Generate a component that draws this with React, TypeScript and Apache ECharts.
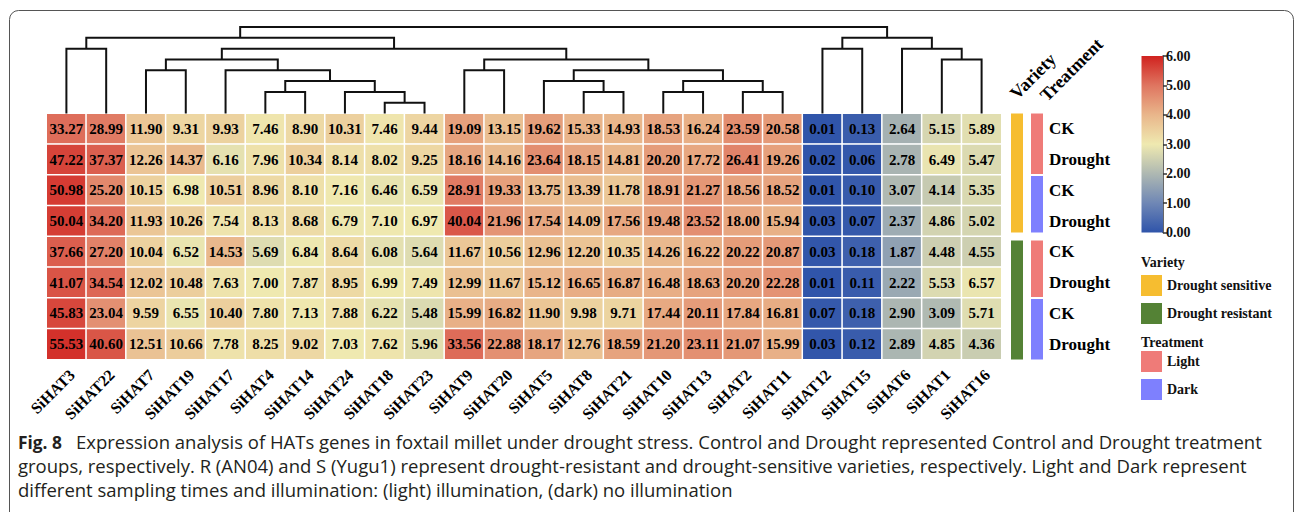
import React, { useEffect, useRef } from "react";
import * as echarts from "echarts";

// ---------------- data ----------------
const genes = [
  "SiHAT3", "SiHAT22", "SiHAT7", "SiHAT19", "SiHAT17", "SiHAT4", "SiHAT14", "SiHAT24",
  "SiHAT18", "SiHAT23", "SiHAT9", "SiHAT20", "SiHAT5", "SiHAT8", "SiHAT21", "SiHAT10",
  "SiHAT13", "SiHAT2", "SiHAT11", "SiHAT12", "SiHAT15", "SiHAT6", "SiHAT1", "SiHAT16",
];

const rowLabels = ["CK", "Drought", "CK", "Drought", "CK", "Drought", "CK", "Drought"];
const rowVariety = [
  "Drought sensitive", "Drought sensitive", "Drought sensitive", "Drought sensitive",
  "Drought resistant", "Drought resistant", "Drought resistant", "Drought resistant",
];
const rowTreatment = ["Light", "Light", "Dark", "Dark", "Light", "Light", "Dark", "Dark"];

const row0 = [33.27, 28.99, 11.90, 9.31, 9.93, 7.46, 8.90, 10.31, 7.46, 9.44, 19.09, 13.15, 19.62, 15.33, 14.93, 18.53, 16.24, 23.59, 20.58, 0.01, 0.13, 2.64, 5.15, 5.89];
const row1 = [47.22, 37.37, 12.26, 14.37, 6.16, 7.96, 10.34, 8.14, 8.02, 9.25, 18.16, 14.16, 23.64, 18.15, 14.81, 20.20, 17.72, 26.41, 19.26, 0.02, 0.06, 2.78, 6.49, 5.47];
const row2 = [50.98, 25.20, 10.15, 6.98, 10.51, 8.96, 8.10, 7.16, 6.46, 6.59, 28.91, 19.33, 13.75, 13.39, 11.78, 18.91, 21.27, 18.56, 18.52, 0.01, 0.10, 3.07, 4.14, 5.35];
const row3 = [50.04, 34.20, 11.93, 10.26, 7.54, 8.13, 8.68, 6.79, 7.10, 6.97, 40.04, 21.96, 17.54, 14.09, 17.56, 19.48, 23.52, 18.00, 15.94, 0.03, 0.07, 2.37, 4.86, 5.02];
const row4 = [37.66, 27.20, 10.04, 6.52, 14.53, 5.69, 6.84, 8.64, 6.08, 5.64, 11.67, 10.56, 12.96, 12.20, 10.35, 14.26, 16.22, 20.22, 20.87, 0.03, 0.18, 1.87, 4.48, 4.55];
const row5 = [41.07, 34.54, 12.02, 10.48, 7.63, 7.00, 7.87, 8.95, 6.99, 7.49, 12.99, 11.67, 15.12, 16.65, 16.87, 16.48, 18.63, 20.20, 22.28, 0.01, 0.11, 2.22, 5.53, 6.57];
const row6 = [45.83, 23.04, 9.59, 6.55, 10.40, 7.80, 7.13, 7.88, 6.22, 5.48, 15.99, 16.82, 11.90, 9.98, 9.71, 17.44, 20.11, 17.84, 16.81, 0.07, 0.18, 2.90, 3.09, 5.71];
const row7 = [55.53, 40.60, 12.51, 10.66, 7.78, 8.25, 9.02, 7.03, 7.62, 5.96, 33.56, 22.88, 18.17, 12.76, 18.59, 21.20, 23.11, 21.07, 15.99, 0.03, 0.12, 2.89, 4.85, 4.36];
const expression = [row0, row1, row2, row3, row4, row5, row6, row7];

// column dendrogram: [childA, childB, height]; leaves are 0..23, merges numbered from 24
const linkage = [
  [8, 9, 1], [7, 24, 2], [5, 6, 2], [26, 25, 3], [4, 27, 4], [2, 3, 4], [29, 28, 5],
  [13, 14, 2], [12, 31, 3], [15, 16, 2], [17, 18, 2], [33, 34, 3], [32, 35, 4], [10, 11, 4],
  [37, 36, 5], [30, 38, 6], [0, 1, 6], [40, 39, 7], [22, 23, 5], [21, 42, 6], [19, 20, 6],
  [44, 43, 7], [41, 45, 8],
];

const colorTicks = [0, 1, 2, 3, 4, 5, 6];
const colorStops = ["#2F54AA", "#6F87B5", "#AEB8B2", "#EFE9B0", "#E9B68B", "#DF7560", "#D0221F"];
const groupColors: Record<string, string> = {
  "Drought sensitive": "#F6BD30",
  "Drought resistant": "#548235",
  Light: "#EF7B78",
  Dark: "#7E80FE",
};
const varietyNames = ["Drought sensitive", "Drought resistant"];
const treatmentNames = ["Light", "Dark"];

const captionFig = "Fig. 8";
const captionLines = [
  "Expression analysis of HATs genes in foxtail millet under drought stress. Control and Drought represented Control and Drought treatment",
  "groups, respectively. R (AN04) and S (Yugu1) represent drought-resistant and drought-sensitive varieties, respectively. Light and Dark represent",
  "different sampling times and illumination: (light) illumination, (dark) no illumination",
];

// ---------------- helpers ----------------
const SERIF = "'Liberation Serif', 'Times New Roman', serif";
const SANS = "'Open Sans', 'Noto Sans', sans-serif";

function measure(text: string, font: string): number {
  const ctx = document.createElement("canvas").getContext("2d");
  if (!ctx) return text.length * 8;
  ctx.font = font;
  return ctx.measureText(text).width;
}

function runs(arr: string[]) {
  const out: { name: string; start: number; end: number }[] = [];
  let s = 0;
  for (let i = 1; i <= arr.length; i++) {
    if (i === arr.length || arr[i] !== arr[s]) {
      out.push({ name: arr[s], start: s, end: i - 1 });
      s = i;
    }
  }
  return out;
}

export default function App() {
  const ref = useRef<HTMLDivElement>(null);

  useEffect(() => {
    if (!ref.current) return;
    const chart = echarts.init(ref.current, null, { renderer: "svg" });

    // heatmap data: [col, row, log2(v+1), v]
    const heatData: number[][] = [];
    expression.forEach((row, r) =>
      row.forEach((v, c) => heatData.push([c, r, Math.log2(v + 1), v]))
    );

    // dendrogram segments
    const pos: number[] = genes.map((_, i) => i);
    const hts: number[] = genes.map(() => 0);
    const segs: number[][] = [];
    linkage.forEach(([a, b, h], k) => {
      const id = genes.length + k;
      pos[id] = (pos[a] + pos[b]) / 2;
      hts[id] = h;
      segs.push([pos[a], hts[a], pos[b], hts[b], h]);
    });

    // annotation runs
    const annoSeries: any[] = [];
    const addAnno = (arr: string[], col: number, names: string[]) => {
      const rs = runs(arr);
      names.forEach((name) => {
        annoSeries.push({
          type: "custom",
          name,
          xAxisIndex: 2,
          yAxisIndex: 2,
          silent: true,
          itemStyle: { color: groupColors[name] },
          encode: { x: 0, y: [1, 2] },
          data: rs.filter((r) => r.name === name).map((r) => [col, r.start, r.end]),
          renderItem: (params: any, api: any) => {
            const c = api.value(0);
            const s = api.value(1);
            const e = api.value(2);
            const p0 = api.coord([c, s]);
            const p1 = api.coord([c, e]);
            const band = api.size([0, 1])[1];
            const gapBefore =
              s === 0 ? 0 : rowVariety[s] !== rowVariety[s - 1] ? 4 : 1;
            const gapAfter =
              e === arr.length - 1 ? 0 : rowVariety[e] !== rowVariety[e + 1] ? 4 : 1;
            const y0 = p0[1] - band / 2 + gapBefore;
            const y1 = p1[1] + band / 2 - gapAfter;
            return {
              type: "rect",
              shape: { x: p0[0] - 6, y: y0, width: 12, height: y1 - y0 },
              style: { fill: api.visual("color") },
            };
          },
        });
      });
    };
    addAnno(rowVariety, 0, varietyNames);
    addAnno(rowTreatment, 1, treatmentNames);

    // caption scaling
    const capFont = `18px ${SANS}`;
    const figFont = `bold 18px ${SANS}`;
    const bodyScale = 1186 / measure(captionLines[0], capFont);
    const figScale = 44 / measure(captionFig, figFont);

    const gradient = new echarts.graphic.LinearGradient(
      0, 0, 0, 1,
      colorStops
        .map((c, i) => ({ offset: 1 - colorTicks[i] / 6, color: c }))
        .sort((a, b) => a.offset - b.offset)
    );

    const legendText = { fontFamily: SERIF, fontWeight: "bold", fontSize: 14, color: "#111" };

    const option: any = {
      animation: false,
      backgroundColor: "#fff",
      grid: [
        { left: 46.5, top: 113.5, width: 955, height: 246 },
        { left: 46.5, top: 27, width: 955, height: 86.5 },
        { left: 1007, top: 113.5, width: 40, height: 246 },
        { left: 1141.5, top: 56, width: 21.5, height: 176.5 },
      ],
      xAxis: [
        {
          type: "category",
          gridIndex: 0,
          data: genes,
          position: "bottom",
          axisLine: { show: false },
          axisTick: { show: false },
          splitLine: { show: false },
          axisLabel: {
            interval: 0,
            rotate: 45,
            verticalAlign: "top",
            margin: 7,
            fontFamily: SERIF,
            fontWeight: "bold",
            fontSize: 16,
            color: "#000",
          },
        },
        { type: "value", gridIndex: 1, min: -0.5, max: 23.5, show: false },
        { type: "category", gridIndex: 2, data: ["Variety", "Treatment"], show: false },
        { type: "category", gridIndex: 3, data: [""], show: false },
      ],
      yAxis: [
        {
          type: "category",
          gridIndex: 0,
          data: rowLabels.map((_, i) => "r" + i),
          inverse: true,
          position: "right",
          axisLine: { show: false },
          axisTick: { show: false },
          splitLine: { show: false },
          axisLabel: {
            margin: 47.5,
            formatter: (_: string, i: number) => rowLabels[i],
            fontFamily: SERIF,
            fontWeight: "bold",
            fontSize: 17,
            color: "#000",
          },
        },
        { type: "value", gridIndex: 1, min: 0, max: 8, show: false },
        {
          type: "category",
          gridIndex: 2,
          data: rowLabels.map((_, i) => "r" + i),
          inverse: true,
          show: false,
        },
        {
          type: "value",
          gridIndex: 3,
          min: 0,
          max: 6,
          interval: 1,
          position: "right",
          splitLine: { show: false },
          axisLine: { show: true, lineStyle: { color: "#333", width: 1.5 } },
          axisTick: { show: true, length: 4, lineStyle: { color: "#333", width: 1.5 } },
          axisLabel: {
            margin: 3,
            formatter: (v: number) => v.toFixed(2),
            fontFamily: SERIF,
            fontWeight: "bold",
            fontSize: 14,
            color: "#111",
          },
        },
      ],
      visualMap: {
        show: false,
        type: "continuous",
        min: 0,
        max: 6,
        dimension: 2,
        seriesIndex: 0,
        inRange: { color: colorStops },
      },
      legend: [
        {
          data: varietyNames,
          orient: "vertical",
          left: 1141,
          top: 275,
          padding: 0,
          itemWidth: 21,
          itemHeight: 21,
          itemGap: 7,
          icon: "rect",
          selectedMode: false,
          textStyle: legendText,
        },
        {
          data: treatmentNames,
          orient: "vertical",
          left: 1141,
          top: 351,
          padding: 0,
          itemWidth: 21,
          itemHeight: 21,
          itemGap: 7,
          icon: "rect",
          selectedMode: false,
          textStyle: legendText,
        },
      ],
      series: [
        {
          type: "heatmap",
          xAxisIndex: 0,
          yAxisIndex: 0,
          data: heatData,
          silent: true,
          itemStyle: { borderColor: "#fff", borderWidth: 1.5 },
          label: {
            show: true,
            formatter: (p: any) => p.value[3].toFixed(2),
            fontFamily: SERIF,
            fontWeight: "bold",
            fontSize: 15,
            color: "#000",
          },
          emphasis: { disabled: true },
        },
        {
          type: "custom",
          xAxisIndex: 1,
          yAxisIndex: 1,
          silent: true,
          encode: { x: [0, 2], y: [1, 3, 4] },
          data: segs,
          renderItem: (params: any, api: any) => {
            const pts = [
              api.coord([api.value(0), api.value(1)]),
              api.coord([api.value(0), api.value(4)]),
              api.coord([api.value(2), api.value(4)]),
              api.coord([api.value(2), api.value(3)]),
            ];
            return {
              type: "polyline",
              shape: { points: pts },
              style: { stroke: "#111", lineWidth: 2, fill: null },
            };
          },
        },
        {
          type: "bar",
          xAxisIndex: 3,
          yAxisIndex: 3,
          data: [6],
          barWidth: "100%",
          silent: true,
          itemStyle: { color: gradient },
        },
        ...annoSeries,
      ],
      graphic: [
        {
          type: "rect",
          shape: { x: 9.5, y: 10.5, width: 1284, height: 530, r: 9 },
          style: { fill: null, stroke: "#555", lineWidth: 1 },
          silent: true,
          z: -1,
        },
        {
          type: "text",
          x: 1013,
          y: 96,
          rotation: Math.PI / 4,
          style: {
            text: "Variety",
            font: `bold 18px ${SERIF}`,
            fill: "#000",
            align: "left",
            verticalAlign: "middle",
          },
        },
        {
          type: "text",
          x: 1043,
          y: 98,
          rotation: Math.PI / 4,
          style: {
            text: "Treatment",
            font: `bold 18px ${SERIF}`,
            fill: "#000",
            align: "left",
            verticalAlign: "middle",
          },
        },
        {
          type: "text",
          x: 1141,
          y: 262,
          style: { text: "Variety", font: `bold 14px ${SERIF}`, fill: "#111", verticalAlign: "middle" },
        },
        {
          type: "text",
          x: 1141,
          y: 342,
          style: { text: "Treatment", font: `bold 14px ${SERIF}`, fill: "#111", verticalAlign: "middle" },
        },
        {
          type: "text",
          x: 18,
          y: 442,
          scaleX: figScale,
          style: { text: captionFig, font: figFont, fill: "#231F20", verticalAlign: "middle" },
        },
        ...captionLines.map((line, i) => ({
          type: "text",
          x: i === 0 ? 76 : 18,
          y: 442 + i * 24,
          scaleX: bodyScale,
          style: { text: line, font: capFont, fill: "#231F20", verticalAlign: "middle" },
        })),
      ],
    };

    chart.setOption(option);
    return () => chart.dispose();
  }, []);

  return (
    <div
      ref={ref}
      style={{ position: "absolute", left: 0, top: 0, width: 1295, height: 512 }}
    />
  );
}
